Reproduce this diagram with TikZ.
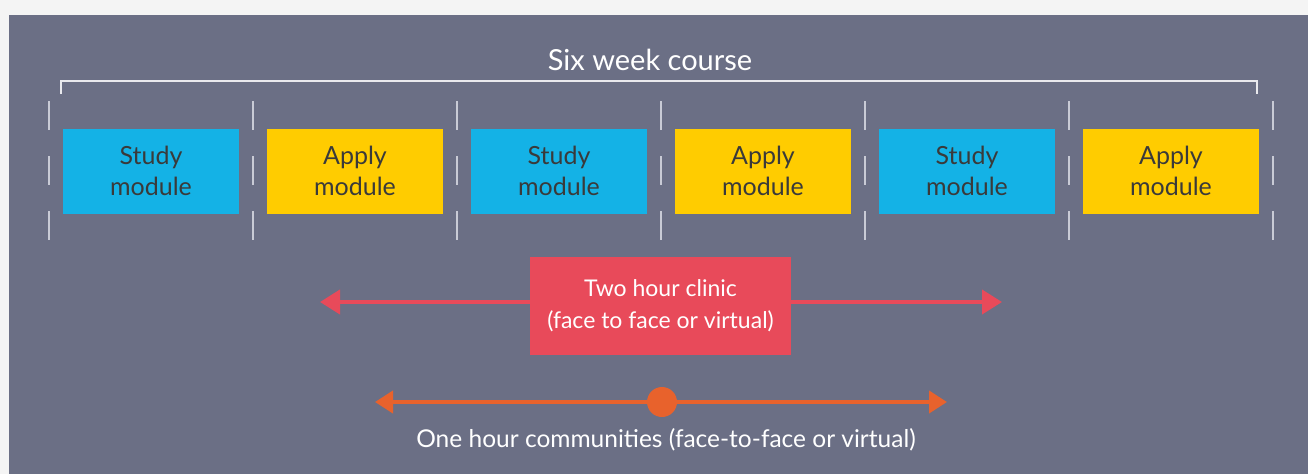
\documentclass[tikz,border=0pt]{standalone}
\usepackage{fontspec}
\setmainfont{Lato}
\usetikzlibrary{arrows.meta}
\definecolor{outer}{HTML}{F4F4F4}
\definecolor{panel}{HTML}{6B6F85}
\definecolor{studyc}{HTML}{14B2E6}
\definecolor{applyc}{HTML}{FFCC00}
\definecolor{clinicc}{HTML}{E84A5A}
\definecolor{commc}{HTML}{E8622C}
\definecolor{tickc}{HTML}{C9CBD6}
\definecolor{txtdark}{HTML}{3A3A3A}
\tikzset{
  modbox/.style={minimum width=176pt, minimum height=85pt, inner sep=0pt, align=center,
    text=txtdark, font=\fontsize{25}{31}\selectfont},
  studybox/.style={modbox, fill=studyc},
  applybox/.style={modbox, fill=applyc},
  divider/.style={draw=tickc, line width=1.5pt, dash pattern=on 29pt off 26pt},
  bracketline/.style={draw=white!85!panel, line width=1.3pt},
  clinicarrow/.style={draw=clinicc, line width=4pt, {Triangle[length=20pt,width=24pt]}-{Triangle[length=20pt,width=24pt]}},
  commarrow/.style={draw=commc, line width=4pt, {Triangle[length=18pt,width=22pt]}-{Triangle[length=18pt,width=22pt]}},
}
\begin{document}
\begin{tikzpicture}[x=1pt,y=-1pt]
\fill[outer] (0,0) rectangle (1308,474);
\fill[panel] (9,15) rectangle (1308,474);
\useasboundingbox (0,0) rectangle (1308,474);
% title and bracket
\node[text=white, font=\fontsize{29}{34}\selectfont] (title) at (650,60) {Six week course};
\coordinate (bl) at (61,94);
\coordinate (br) at (1257,94);
\draw[bracketline] (bl) -- ++(0,-13) -| (br);
% dividers
\foreach \i in {0,...,6} {
  \coordinate (dt\i) at (49+204*\i,101);
  \coordinate (db\i) at (49+204*\i,240);
  \draw[divider] (dt\i) -- (db\i);
}
% modules
\node[studybox] (s1) at (151,171) {Study\\module};
\node[applybox] (a1) at (355,171) {Apply\\module};
\node[studybox] (s2) at (559,171) {Study\\module};
\node[applybox] (a2) at (763,171) {Apply\\module};
\node[studybox] (s3) at (967,171) {Study\\module};
\node[applybox] (a3) at (1171,171) {Apply\\module};
% clinic
\coordinate (cl) at (320,302);
\coordinate (cr) at (1002,302);
\draw[clinicarrow] (cl) -- (cr);
\node[fill=clinicc, minimum width=261pt, minimum height=98pt, inner sep=0pt, align=center,
  text=white, font=\fontsize{23}{32}\selectfont] (clinic) at (660.5,306) {Two hour clinic\\(face to face or virtual)};
% communities
\coordinate (ml) at (375,402);
\coordinate (mr) at (947,402);
\draw[commarrow] (ml) -- (mr);
\node[circle, fill=commc, minimum size=30pt, inner sep=0pt] (dot) at (662,402) {};
\node[text=white, font=\fontsize{24.5}{28}\selectfont] (comm) at (666,440) {One hour communities (face-to-face or virtual)};
\end{tikzpicture}
\end{document}
